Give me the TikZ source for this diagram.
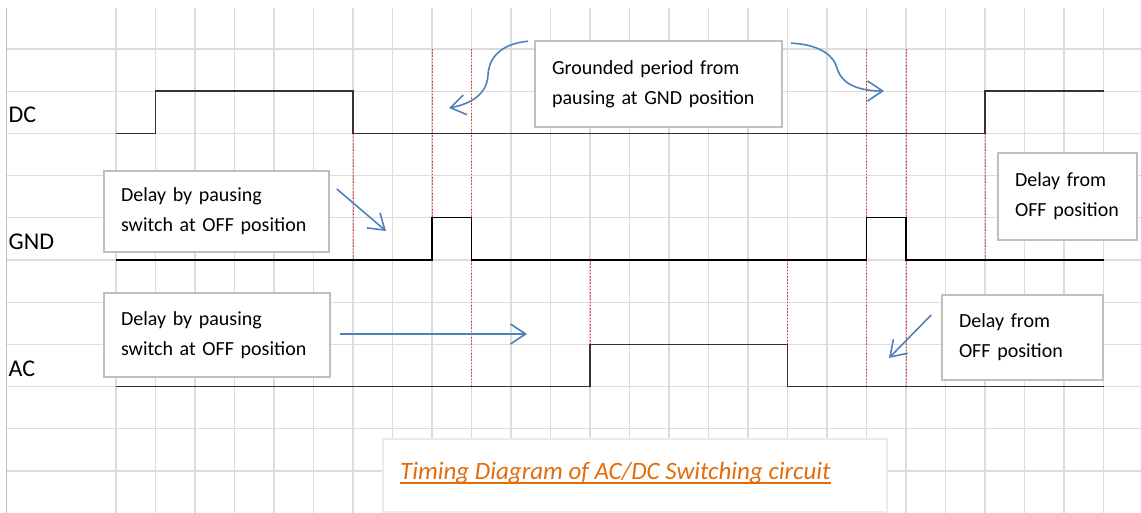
\documentclass[tikz,border=0pt]{standalone}
\usepackage{fontspec}
\setmainfont{Carlito}
\usepackage{tikz}
\usetikzlibrary{arrows.meta}

\definecolor{gitter}{HTML}{DCDCDC}
\definecolor{pfeil}{HTML}{4F81BD}
\definecolor{titel}{HTML}{E46C0A}
\definecolor{rahmen}{HTML}{BFBFBF}
\definecolor{titelrand}{HTML}{EEECE1}
\definecolor{markrot}{HTML}{F03C3C}

\begin{document}
\begin{tikzpicture}[x=1pt,y=-1pt,
    gitterlinie/.style={gitter, line width=1.3pt},
    signal/.style={black!80, line width=1.4pt},
    marke/.style={markrot, dash pattern=on 1.6pt off 1.6pt, line width=1pt},
    hinweis/.style={draw=rahmen, line width=1.6pt, fill=white, align=left,
        inner xsep=17pt, font=\fontsize{20}{30}\selectfont},
    zeiger/.style={pfeil, line width=1.6pt, -{Straight Barb[length=15pt,width=20pt]}},
    kanal/.style={anchor=west, inner sep=0pt, font=\fontsize{24}{28}\selectfont}]
    \useasboundingbox (0,0) rectangle (1141,513);
    % Gitter:
    \foreach \k in {0,...,25} \draw[gitterlinie] (116+39.5*\k,8) -- (116+39.5*\k,513);
    \foreach \k in {0,...,10} \draw[gitterlinie] (6.5,49+42.2*\k) -- (1141,49+42.2*\k);
    \draw[line width=1.3pt, black!25] (6.5,8) -- (6.5,513); % linker Rand
    % rote Markierungen:
    \draw[marke] (353,133.4) -- (353,260);
    \draw[marke] (432,49) -- (432,217.8);
    \draw[marke] (471.5,49) -- (471.5,386.6);
    \draw[marke] (590,260) -- (590,344.4);
    \draw[marke] (787.5,260) -- (787.5,344.4);
    \draw[marke] (866.5,49) -- (866.5,386.6);
    \draw[marke] (906,49) -- (906,386.6);
    \draw[marke] (985,133.4) -- (985,260);
    % Signale:
    \node[kanal] (dc) at (8.5,114.5) {DC};
    \node[kanal] (gnd) at (8.5,242) {GND};
    \node[kanal] (ac) at (8.5,368.5) {AC};
    \draw[signal] (116,133.4) -- (155.5,133.4) -- (155.5,91.2) -- (353,91.2) -- (353,133.4)
        -- (985,133.4) -- (985,91.2) -- (1103.5,91.2); % DC
    \draw[signal, black] (116,260) -- (432,260) -- (432,217.8) -- (471.5,217.8) -- (471.5,260)
        -- (866.5,260) -- (866.5,217.8) -- (906,217.8) -- (906,260) -- (1103.5,260); % GND
    \draw[signal] (116,386.6) -- (590,386.6) -- (590,344.4) -- (787.5,344.4) -- (787.5,386.6)
        -- (1103.5,386.6); % AC
    % Hinweise:
    \node[hinweis, text width=213pt, minimum height=86pt] (erdung) at (658.5,84)
        {Grounded period from\\pausing at GND position};
    \node[hinweis, text width=191pt, minimum height=81pt] (gndpause) at (216.5,211.5)
        {Delay by pausing\\switch at OFF position};
    \node[hinweis, text width=105pt, minimum height=87pt] (gndaus) at (1067.5,196.5)
        {Delay from\\OFF position};
    \node[hinweis, text width=192pt, minimum height=84pt] (acpause) at (217,335)
        {Delay by pausing\\switch at OFF position};
    \node[hinweis, text width=127pt, minimum height=85pt] (acaus) at (1022.5,337.5)
        {Delay from\\OFF position};
    % Titel:
    \node[draw=titelrand, line width=1.6pt, fill=white, minimum width=504pt, minimum height=73pt]
        (titelbox) at (635,475.5) {};
    \node[anchor=base west, inner sep=0pt, titel, font=\fontsize{25}{30}\selectfont\itshape]
        (titeltext) at (400,479) {Timing Diagram of AC/DC Switching circuit};
    \draw[titel, line width=1.2pt] ([yshift=-4pt]titeltext.base west) -- ([yshift=-4pt]titeltext.base east);
    % Pfeile:
    \coordinate (linksziel) at (449,108);
    \coordinate (rechtsziel) at (884,91);
    \coordinate (gndziel) at (386,231);
    \coordinate (acziel) at (527,334);
    \coordinate (acausziel) at (889,358);
    \draw[zeiger] ([xshift=-6pt,yshift=-1pt]erdung.north west) .. controls (500,44) and (489,58) .. (488,75)
        .. controls (487,95) and (470,104) .. (linksziel);
    \draw[zeiger] ([xshift=8pt,yshift=-3pt]erdung.north east) .. controls (815,44) and (833,53) .. (837,68)
        .. controls (842,86) and (862,91) .. (rechtsziel);
    \draw[zeiger] ([xshift=7pt,yshift=22.5pt]gndpause.east) -- (gndziel);
    \draw[zeiger] ([xshift=9pt,yshift=1pt]acpause.east) -- (acziel);
    \draw[zeiger] ([xshift=-10pt,yshift=22.5pt]acaus.west) -- (acausziel);
\end{tikzpicture}
\end{document}
